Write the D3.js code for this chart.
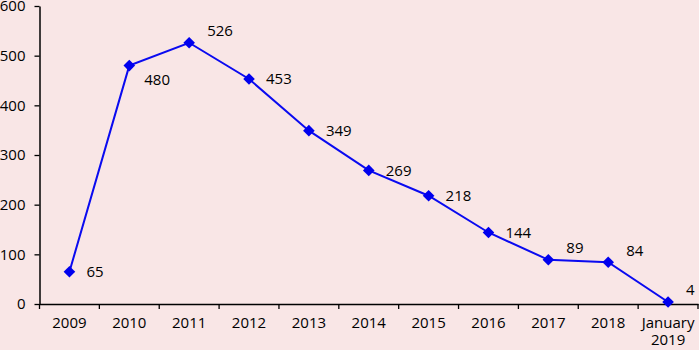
<!DOCTYPE html>
<html>
<head>
<meta charset="utf-8">
<script src="https://cdn.jsdelivr.net/npm/d3@7"></script>
<style>
html,body{margin:0;padding:0;background:#f9e6e6;}
svg{display:block;}
text{font-family:"Open Sans",sans-serif;font-size:15px;fill:#000;}
</style>
</head>
<body>
<svg id="chart" width="699" height="350"></svg>
<script>
const categories = ["2009","2010","2011","2012","2013","2014","2015","2016","2017","2018","January 2019"];
const values = [65,480,526,453,349,269,218,144,89,84,4];
const yTicks = [0,100,200,300,400,500,600];

const W = 699, H = 350;
const margin = {left:39.5, right:1, top:6, bottom:46};
const FS = 14.5;
const svg = d3.select("#chart");
svg.append("rect").attr("width",W).attr("height",H).attr("fill","#f9e6e6");

const x = d3.scaleBand().domain(categories).range([margin.left, W - margin.right]);
const y = d3.scaleLinear().domain([0,600]).range([H - margin.bottom, margin.top]);

// Y axis
const yAxis = svg.append("g").attr("transform",`translate(${margin.left},0)`)
  .call(d3.axisLeft(y).tickValues(yTicks).tickSize(5).tickPadding(9).tickSizeOuter(0));
yAxis.select(".domain").attr("stroke","#000").attr("stroke-width",1.5);
yAxis.selectAll(".tick line").attr("stroke","#000").attr("stroke-width",1.3);
yAxis.selectAll("text").attr("font-size",FS).attr("font-family","Open Sans").attr("fill","#000");

// X axis
const xAxis = svg.append("g").attr("transform",`translate(0,${y(0)})`)
  .call(d3.axisBottom(x).tickSize(0).tickPadding(13));
xAxis.select(".domain").attr("stroke","#000").attr("stroke-width",1.5);
xAxis.selectAll(".tick").each(function(d){
  const g = d3.select(this);
  const t = g.select("text").attr("font-size",FS).attr("font-family","Open Sans").attr("fill","#000");
  const parts = d.split(" ");
  if (parts.length > 1) {
    t.text(parts[0]);
    g.append("text").attr("y", +t.attr("y") + 17).attr("dy","0.71em")
      .attr("text-anchor","middle").attr("font-size",FS).attr("font-family","Open Sans")
      .attr("fill","#000").text(parts[1]);
  }
});
// tick marks at band boundaries
const bounds = categories.map(c => x(c)).concat([x(categories[categories.length-1]) + x.bandwidth()]);
svg.append("g").selectAll("line").data(bounds).join("line")
  .attr("x1",d=>d).attr("x2",d=>d)
  .attr("y1",y(0)).attr("y2",y(0)+5)
  .attr("stroke","#000").attr("stroke-width",1.3);

const cx = d => x(d) + x.bandwidth()/2;
const pts = categories.map((c,i)=>({c, v: values[i]}));

// line
svg.append("path").datum(pts)
  .attr("fill","none").attr("stroke","#0a0af0").attr("stroke-width",2)
  .attr("d", d3.line().x(d=>cx(d.c)).y(d=>y(d.v)));

// markers
const r = 5.8;
svg.append("g").selectAll("path").data(pts).join("path")
  .attr("transform", d=>`translate(${cx(d.c)},${y(d.v)})`)
  .attr("d", `M0,${-r}L${r},0L0,${r}L${-r},0Z`)
  .attr("fill","#0000ee");

// labels: placement per point (right / below-right / above-right)
const place = ["r","br","ar","r","r","r","r","r","ar","ar","ar"];
const off = {r:[17,0], br:[15,14], ar:[18,-12]};
svg.append("g").selectAll("text").data(pts).join("text")
  .attr("x", (d,i)=>cx(d.c) + off[place[i]][0])
  .attr("y", (d,i)=>y(d.v) + off[place[i]][1])
  .attr("dy","0.35em")
  .attr("font-size",FS)
  .text(d=>d.v);
</script>
</body>
</html>
